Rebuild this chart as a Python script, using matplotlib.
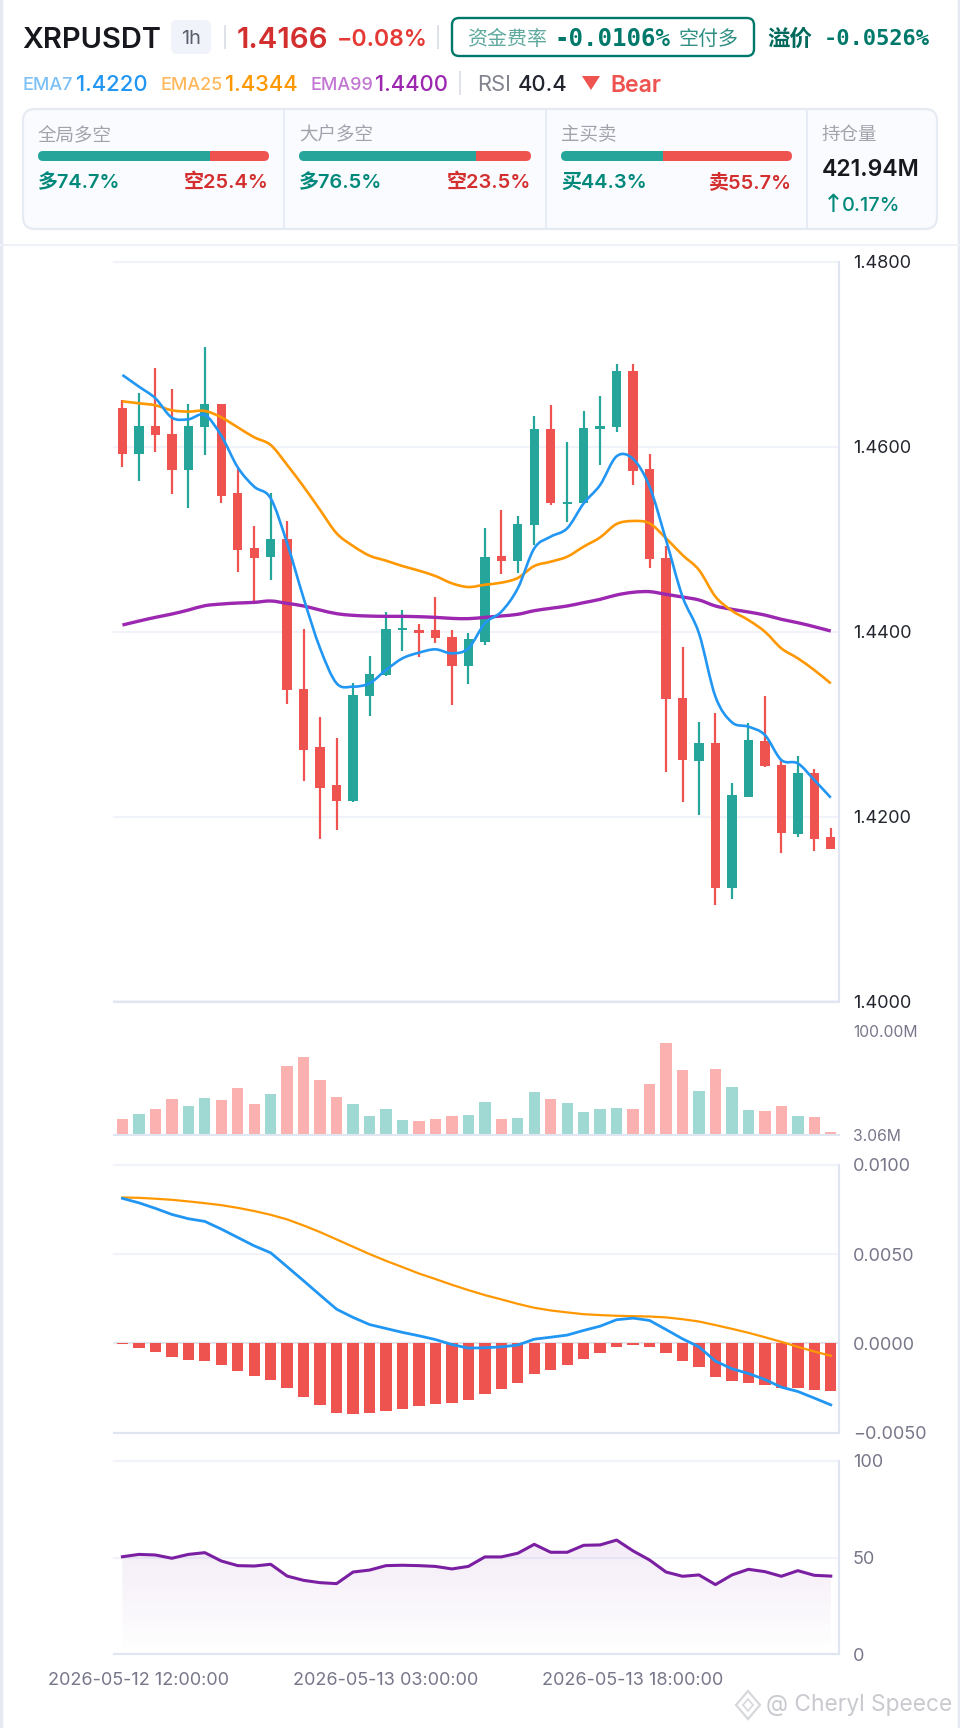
import numpy as np
import matplotlib
matplotlib.use("Agg")
import matplotlib.pyplot as plt
from matplotlib.patches import FancyBboxPatch, Rectangle, Polygon, PathPatch
from matplotlib.path import Path

W, H = 960, 1728
UP, DOWN = '#26a69a', '#ef5350'
GRID, AXIS = '#f0f3fa', '#e0e6f1'
CJK = ['Noto Sans CJK SC', 'DejaVu Sans']
LAT = ['Inter', 'Noto Sans CJK SC', 'DejaVu Sans']
MONO = ['DejaVu Sans Mono']
plt.rcParams['font.family'] = LAT

open_ = [1.46418,1.45917,1.46227,1.46137,1.45748,1.46216,1.46462,1.45495,1.44904,1.44807,1.45005,
         1.43379,1.42752,1.42341,1.42168,1.43304,1.43527,1.44014,1.44021,1.44014,1.43942,1.43632,
         1.43884,1.44814,1.44767,1.45149,1.46195,1.45380,1.45387,1.46188,1.46209,1.46815,1.45755,
         1.44796,1.43282,1.42604,1.42792,1.41227,1.42211,1.42820,1.42561,1.41811,1.42467,1.41778]
close = [1.45917,1.46227,1.46126,1.45748,1.46227,1.46465,1.45470,1.44882,1.44796,1.45005,1.43365,
         1.42719,1.42308,1.42168,1.43311,1.43545,1.44025,1.44032,1.43989,1.43927,1.43624,1.43917,
         1.44803,1.44767,1.45164,1.46188,1.45387,1.45405,1.46206,1.46227,1.46815,1.45741,1.44785,
         1.43275,1.42615,1.42792,1.41227,1.42229,1.42831,1.42543,1.41822,1.42467,1.41760,1.41652]
high = [1.46505,1.46584,1.46847,1.46624,1.46465,1.47075,1.46462,1.45755,1.45146,1.45502,1.45192,
        1.44025,1.43080,1.42853,1.43441,1.43740,1.44212,1.44234,1.44079,1.44374,1.44017,1.43985,
        1.45117,1.45315,1.45254,1.46336,1.46447,1.46054,1.46390,1.46548,1.46894,1.46894,1.45924,
        1.44926,1.43837,1.43019,1.43120,1.42359,1.43008,1.43300,1.42611,1.42651,1.42510,1.41872]
low = [1.45784,1.45629,1.45946,1.45488,1.45337,1.45910,1.45387,1.44648,1.44305,1.44558,1.43213,
       1.42384,1.41760,1.41854,1.42161,1.43084,1.43523,1.43794,1.43729,1.43880,1.43210,1.43433,
       1.43855,1.44623,1.44637,1.44937,1.45369,1.45185,1.45387,1.45798,1.46159,1.45586,1.44691,
       1.42485,1.42161,1.42020,1.41039,1.41111,1.42211,1.42539,1.41609,1.41782,1.41631,1.41652]
ema7 = [1.46775,1.46649,1.46523,1.46314,1.46296,1.46343,1.46119,1.45776,1.45567,1.45441,1.44954,
        1.44360,1.43819,1.43441,1.43405,1.43441,1.43585,1.43711,1.43772,1.43808,1.43765,1.43819,
        1.44089,1.44215,1.44468,1.44900,1.45027,1.45117,1.45387,1.45586,1.45896,1.45867,1.45568,
        1.44991,1.44378,1.43981,1.43296,1.43019,1.42972,1.42882,1.42611,1.42575,1.42395,1.42204]
ema25 = [1.46490,1.46469,1.46447,1.46393,1.46379,1.46386,1.46317,1.46209,1.46101,1.46018,1.45802,
         1.45567,1.45315,1.45063,1.44926,1.44821,1.44767,1.44709,1.44659,1.44601,1.44522,1.44482,
         1.44507,1.44529,1.44580,1.44709,1.44756,1.44810,1.44919,1.45019,1.45164,1.45196,1.45171,
         1.45009,1.44828,1.44666,1.44378,1.44226,1.44125,1.43999,1.43819,1.43711,1.43584,1.43440]
ema99 = [1.44071,1.44114,1.44154,1.44190,1.44233,1.44280,1.44298,1.44309,1.44316,1.44331,1.44305,
         1.44277,1.44233,1.44194,1.44176,1.44168,1.44165,1.44165,1.44161,1.44154,1.44143,1.44140,
         1.44154,1.44169,1.44187,1.44226,1.44252,1.44277,1.44313,1.44349,1.44396,1.44425,1.44432,
         1.44403,1.44374,1.44342,1.44277,1.44241,1.44212,1.44179,1.44133,1.44096,1.44053,1.44006]
volume = [17.97,22.6,27.3,36.6,30.1,37.6,36.0,46.6,32.0,41.3,67.7,75.5,54.6,38.8,32.3,20.8,27.6,17.0,
          16.1,18.0,20.8,21.7,33.5,18.3,19.2,43.1,36.3,32.9,24.5,27.3,27.9,27.6,50.6,88.5,64.0,43.8,
          64.6,48.1,26.1,25.1,29.8,21.1,20.1,5.9]
macd_hist = [-0.00004,-0.00026,-0.00049,-0.00077,-0.00090,-0.00099,-0.00123,-0.00157,-0.00185,-0.00204,
             -0.00250,-0.00301,-0.00347,-0.00387,-0.00394,-0.00392,-0.00379,-0.00366,-0.00353,-0.00338,
             -0.00331,-0.00314,-0.00284,-0.00256,-0.00222,-0.00172,-0.00146,-0.00123,-0.00088,-0.00056,
             -0.00019,-0.00009,-0.00019,-0.00056,-0.00101,-0.00133,-0.00189,-0.00213,-0.00220,-0.00230,
             -0.00248,-0.00250,-0.00262,-0.00269]
dif = [.00813,.00788,.00757,.00723,.00699,.00684,.00641,.00594,.00547,.00508,.00430,.00351,.00271,.00192,
       .00146,.00106,.00084,.00062,.00043,.00022,-.00006,-.00026,-.00024,-.00019,-.00009,.00024,.00035,
       .00047,.00073,.00097,.00133,.00142,.00129,.00078,.00026,-.00019,-.00099,-.00142,-.00168,-.00202,
       -.00245,-.00269,-.00306,-.00344]
dea = [.00818,.00816,.00811,.00805,.00796,.00786,.00775,.00760,.00742,.00721,.00695,.00661,.00624,.00583,
       .00542,.00501,.00463,.00428,.00392,.00361,.00329,.00299,.00271,.00247,.00222,.00200,.00185,.00174,
       .00164,.00159,.00155,.00153,.00151,.00146,.00136,.00123,.00103,.00082,.00060,.00035,.00009,-.00019,
       -.00045,-.00069]
rsi = [50.4,51.6,51.3,49.6,51.6,52.5,48.2,45.8,45.6,46.5,40.4,38.2,37.0,36.5,42.5,43.5,45.8,46.0,45.8,45.4,
       44.1,45.4,50.3,50.3,52.2,56.8,52.7,52.7,56.3,56.5,59.0,53.4,48.7,42.5,40.3,41.0,36.0,41.0,43.9,42.7,
       40.3,43.2,40.8,40.4]
price_ticks = [1.48, 1.46, 1.44, 1.42, 1.40]
price_labels = ['1.4800', '1.4600', '1.4400', '1.4200', '1.4000']
macd_ticks = [0.01, 0.005, 0.0, -0.005]
macd_labels = ['0.0100', '0.0050', '0.0000', '−0.0050']
rsi_ticks = [100, 50, 0]
rsi_labels = ['100', '50', '0']
time_ticks = [1, 16, 31]
time_labels = ['2026-05-12 12:00:00', '2026-05-13 03:00:00', '2026-05-13 18:00:00']
ratio_names = ['全局多空', '大户多空', '主买卖']
ratio_long = [74.7, 76.5, 44.3]
ratio_short = [25.4, 23.5, 55.7]
ratio_long_labels = ['多74.7%', '多76.5%', '买44.3%']
ratio_short_labels = ['空25.4%', '空23.5%', '卖55.7%']

N = len(open_)
xs = np.arange(N)
fig = plt.figure(figsize=(W / 100, H / 100), dpi=100, facecolor='white')

L, R = 114.2, 839.0


def make_ax(top, bottom, ylim):
    ax = fig.add_axes([L / W, 1 - bottom / H, (R - L) / W, (bottom - top) / H])
    ax.set_xlim(-0.5, N - 0.5)
    ax.set_ylim(*ylim)
    ax.set_xticks([])
    ax.set_yticks([])
    ax.patch.set_alpha(0)
    for s in ax.spines.values():
        s.set_visible(False)
    return ax


def frame(ax, ticks, labels, color, size, right=True, bottom=True, grid=True):
    if grid:
        for t in ticks:
            ax.axhline(t, color=GRID, lw=1.5, zorder=0, clip_on=False)
    if right:
        ax.spines['right'].set_visible(True)
        ax.spines['right'].set_color(AXIS)
        ax.spines['right'].set_linewidth(1.5)
    if bottom:
        ax.spines['bottom'].set_visible(True)
        ax.spines['bottom'].set_color(AXIS)
        ax.spines['bottom'].set_linewidth(1.5)
    ax.yaxis.tick_right()
    ax.set_yticks(ticks)
    ax.set_yticklabels(labels, fontsize=size, color=color)
    ax.tick_params(axis='y', length=0, pad=10)


def smooth(ax, x, y, **kw):
    p = np.column_stack([x, y]).astype(float)
    verts = [p[0]]
    codes = [Path.MOVETO]
    for i in range(len(p) - 1):
        a = p[max(i - 1, 0)]
        b = p[i]
        c = p[i + 1]
        d = p[min(i + 2, len(p) - 1)]
        verts += [b + (c - a) / 6, c - (d - b) / 6, c]
        codes += [Path.CURVE4] * 3
    ax.add_patch(PathPatch(Path(verts, codes), fill=False, **kw))


# main price panel
ax1 = make_ax(261.7, 1001.5, (1.40, 1.48))
frame(ax1, price_ticks, price_labels, '#23262f', 13)
cols = [UP if c >= o else DOWN for o, c in zip(open_, close)]
ax1.vlines(xs, low, high, colors=cols, lw=1.6, zorder=2)
bottoms = [min(o, c) for o, c in zip(open_, close)]
heights = [max(abs(c - o), 0.00025) for o, c in zip(open_, close)]
ax1.bar(xs, heights, 0.57, bottom=bottoms, color=cols, zorder=3)
smooth(ax1, xs, ema99, color='#9c27b0', lw=2.4, zorder=4)
smooth(ax1, xs, ema25, color='#ff9800', lw=1.9, zorder=5)
smooth(ax1, xs, ema7, color='#2196f3', lw=1.9, zorder=6)

# volume panel
ax2 = make_ax(1031, 1135, (3.06, 100))
frame(ax2, [3.06, 100], ['3.06M', '100.00M'], '#77778a', 11.3, right=False, bottom=True, grid=False)
vcol = ['#a0d9d3' if c == UP else '#fab1af' for c in cols]
ax2.bar(xs, np.array(volume) - 3.06, 0.69, bottom=3.06, color=vcol, zorder=2)

# MACD panel
ax3 = make_ax(1165, 1432.7, (-0.005, 0.01))
frame(ax3, macd_ticks, macd_labels, '#77778a', 13)
ax3.axhline(0, color='#e3e5ea', lw=1.5, zorder=1)
ax3.bar(xs, macd_hist, 0.69, color=[UP if v > 0 else DOWN for v in macd_hist], zorder=2)
ax3.plot(xs, dea, color='#ff9800', lw=1.6, zorder=3)
ax3.plot(xs, dif, color='#2196f3', lw=2.0, zorder=4)

# RSI panel
ax4 = make_ax(1460.7, 1654.3, (0, 100))
frame(ax4, rsi_ticks, rsi_labels, '#77778a', 13)
grad = np.zeros((256, 2, 4))
grad[..., :3] = matplotlib.colors.to_rgb('#7b1fa2')
grad[..., 3] = np.linspace(0.09, 0.0, 256)[:, None]
im = ax4.imshow(grad, extent=(0, N - 1, 0, max(rsi)), aspect='auto', origin='upper', zorder=1)
poly = Polygon(np.column_stack([np.r_[xs, N - 1, 0], np.r_[rsi, 0, 0]]), transform=ax4.transData,
               fc='none', ec='none')
ax4.add_patch(poly)
im.set_clip_path(poly)
ax4.set_xlim(-0.5, N - 0.5)
ax4.set_ylim(0, 100)
ax4.plot(xs, rsi, color='#7b1fa2', lw=2.2, zorder=3)
ax4.set_xticks(time_ticks)
ax4.set_xticklabels(time_labels, fontsize=13, color='#77778a')
ax4.tick_params(axis='x', length=0, pad=13)

# overlay in pixel coordinates for the header
ov = fig.add_axes([0, 0, 1, 1], zorder=10)
ov.set_xlim(0, W)
ov.set_ylim(H, 0)
ov.axis('off')
ov.patch.set_alpha(0)


def T(x, y, s, px, color, ha='left', fam=None, weight='normal', **kw):
    ov.text(x, y, s, fontsize=px * 0.72, color=color, ha=ha, va='center_baseline',
            family=fam or LAT, fontweight=weight, **kw)


def vsep(x, y0, y1):
    ov.plot([x, x], [y0, y1], color='#dcdfe6', lw=1.3, solid_capstyle='butt')


def rbox(x0, y0, x1, y1, r, **kw):
    ov.add_patch(FancyBboxPatch((x0 + r, y0 + r), x1 - x0 - 2 * r, y1 - y0 - 2 * r,
                                boxstyle=f'round,pad={r},rounding_size={r}', **kw))


# page edges and separator
ov.plot([1, 1], [0, H], color='#e4e9f2', lw=2.5)
ov.plot([959, 959], [0, H], color='#e4e9f2', lw=2.5)
ov.plot([0, W], [245, 245], color='#eef1f7', lw=1.5)

# first header row
T(22, 37, 'XRPUSDT', 29, '#16181d', weight='semibold')
rbox(171, 20, 211, 54, 6, fc='#f0f3fa', ec='none')
T(191, 37, '1h', 20, '#5a5f6b', ha='center')
vsep(225, 25, 49)
T(237, 37, '1.4166', 29.5, '#d32f2f', weight='semibold')
T(337, 37, '−0.08%', 23, '#e53935', weight='semibold')
vsep(438, 25, 49)
rbox(452, 18, 754, 56, 7, fc='white', ec='#00796b', lw=1.7)
T(467, 37, '资金费率', 20, '#5fa99e', fam=CJK, weight='medium')
T(555, 37, '-0.0106%', 24, '#00796b', fam=MONO, weight='bold')
T(678, 37, '空付多', 20, '#2f8f83', fam=CJK, weight='medium')
T(767, 37, '溢价', 22.5, '#00695c', fam=CJK, weight='bold')
T(824, 37, '-0.0526%', 22, '#00796b', fam=MONO, weight='bold')

# second header row
T(23, 84, 'EMA7', 18, '#7cc0f5', weight='medium')
T(76, 83, '1.4220', 22, '#2196f3', weight='medium')
T(160, 84, 'EMA25', 18, '#ffb85c', weight='medium')
T(225, 83, '1.4344', 22, '#ff9800', weight='medium')
T(310, 84, 'EMA99', 18, '#c274d2', weight='medium')
T(375, 83, '1.4400', 22, '#9c27b0', weight='medium')
vsep(460, 71, 95)
T(477, 83, 'RSI', 22, '#81848d')
T(518, 83, '40.4', 22, '#23262f', weight='medium')
ov.add_patch(Polygon([(582, 76), (600, 76), (591, 90)], fc='#ef5350', ec='none'))
T(610, 83, 'Bear', 23, '#ef5350', weight='semibold')

# ratio card
rbox(23, 109, 937, 229, 12, fc='#fafbff', ec='#e6eaf2', lw=1.6)
for x in (284, 545.6, 807):
    ov.plot([x, x], [109, 229], color='#e6eaf2', lw=1.3)
bars_x = [(38, 269), (299, 531), (561, 792)]
for (x0, x1), name, lo, sh, ll, sl in zip(bars_x, ratio_names, ratio_long, ratio_short,
                                          ratio_long_labels, ratio_short_labels):
    T(x0, 133, name, 18.5, '#a0a3ab', fam=CJK)
    clip = FancyBboxPatch((x0 + 5, 151 + 5), x1 - x0 - 10, 0, boxstyle='round,pad=5,rounding_size=5',
                          fc='none', ec='none')
    ov.add_patch(clip)
    w = (x1 - x0) * lo / (lo + sh)
    r1 = Rectangle((x0, 151), w, 10, fc=UP, ec='none')
    r2 = Rectangle((x0 + w, 151), x1 - x0 - w, 10, fc=DOWN, ec='none')
    ov.add_patch(r1)
    ov.add_patch(r2)
    r1.set_clip_path(clip)
    r2.set_clip_path(clip)
    T(x0, 181, ll, 20, '#00897b', fam=['Inter', 'Noto Sans CJK SC'], weight='semibold')
    T(x1, 181, sl, 20, '#d32f2f', ha='right', fam=['Inter', 'Noto Sans CJK SC'], weight='semibold')
T(822, 133, '持仓量', 18.5, '#a0a3ab', fam=CJK)
T(822, 168, '421.94M', 23, '#16181d', weight='semibold')
T(823, 203, '↑', 25, '#00897b', fam=['DejaVu Sans'])
T(842, 204, '0.17%', 20, '#00897b', weight='medium')

# watermark
T(766, 1703, '@ Cheryl Speece', 22.8, '#c8cacf')
ov.add_patch(Polygon([(748, 1691), (760, 1705), (748, 1719), (736, 1705)], fc='none', ec='#d6d8dc', lw=1.6))
ov.add_patch(Polygon([(748, 1699), (753, 1705), (748, 1711), (743, 1705)], fc='none', ec='#d6d8dc', lw=1.2))

fig.savefig('out.png', dpi=100)
